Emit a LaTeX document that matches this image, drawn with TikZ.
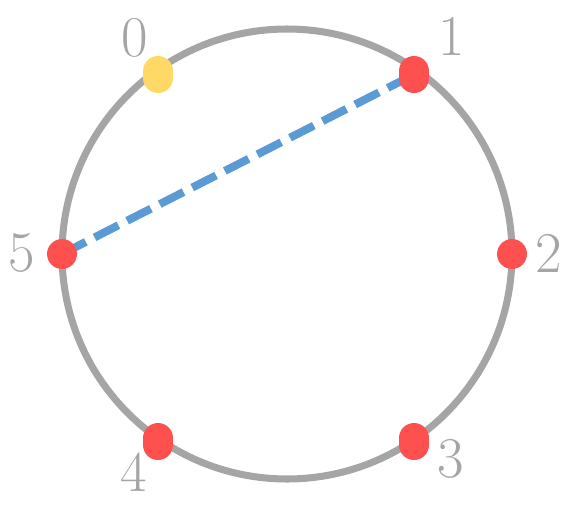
\documentclass[tikz,border=0pt]{standalone}
\usepackage{tikz}
\definecolor{ringgray}{RGB}{165,165,165}
\definecolor{dotred}{RGB}{255,80,80}
\definecolor{dotyellow}{RGB}{255,217,102}
\definecolor{chordblue}{RGB}{91,155,213}
\tikzset{
  capsule/.style={rectangle, rounded corners=10.6pt, minimum width=21.3pt, minimum height=26.3pt, inner sep=0pt},
  roundot/.style={circle, minimum size=21.3pt, inner sep=0pt},
  numlabel/.style={text=ringgray, inner sep=0pt, font=\fontsize{41}{41}\selectfont}
}

\begin{document}
\begin{tikzpicture}[x=0.025cm, y=-0.025cm]
  \useasboundingbox (0,0) rectangle (573,508);
  % Vòng tròn
  \draw[ringgray, line width=5pt] (287,254) circle (225);
  % Các điểm trên vòng tròn
  \coordinate (c0) at (158,74.5);
  \coordinate (c1) at (414,74.5);
  \coordinate (c2) at (512,254);
  \coordinate (c3) at (414,441.5);
  \coordinate (c4) at (158,441.5);
  \coordinate (c5) at (62,254);
  % Dây cung nét đứt
  \draw[chordblue, line width=5.7pt, dash pattern=on 19pt off 7pt] (c5) -- (c1);
  % Các chấm
  \node[capsule, fill=dotyellow] (p0) at (c0) {};
  \node[capsule, fill=dotred] (p1) at (c1) {};
  \node[roundot, fill=dotred] (p2) at (c2) {};
  \node[capsule, fill=dotred] (p3) at (c3) {};
  \node[capsule, fill=dotred] (p4) at (c4) {};
  \node[roundot, fill=dotred] (p5) at (c5) {};
  % Nhãn
  \node[numlabel] (l0) at (135,37.5) {0};
  \node[numlabel] (l1) at (452,36.5) {1};
  \node[numlabel] (l2) at (549,253.5) {2};
  \node[numlabel] (l3) at (451,458.5) {3};
  \node[numlabel] (l4) at (134,472.5) {4};
  \node[numlabel] (l5) at (22,253) {5};
\end{tikzpicture}
\end{document}
